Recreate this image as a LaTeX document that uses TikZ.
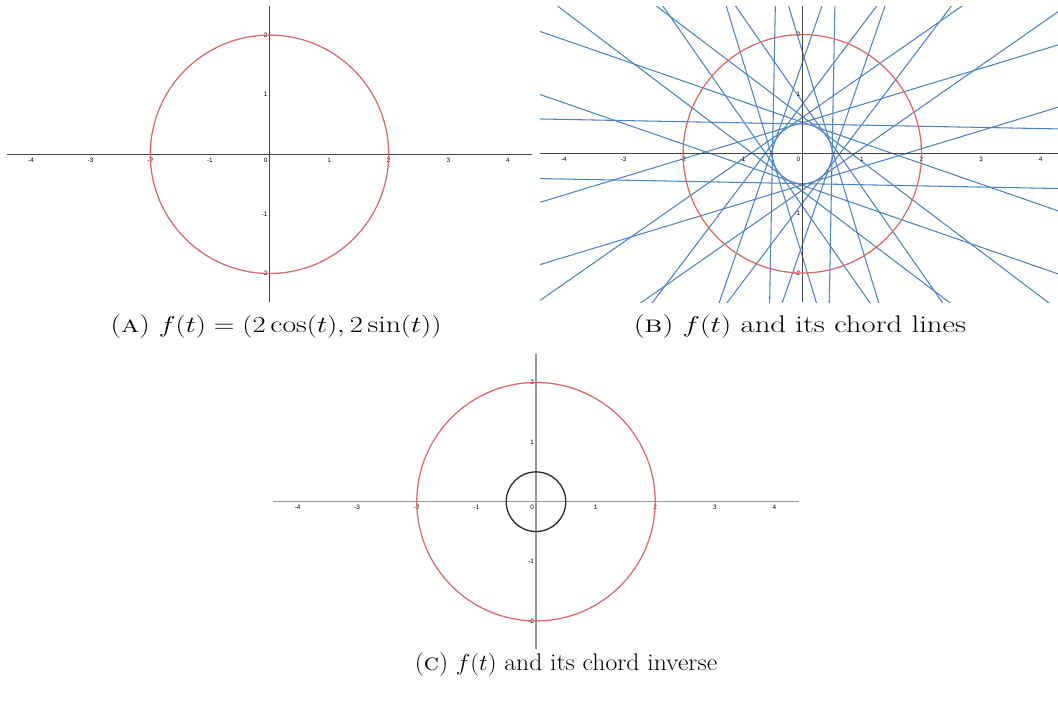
\documentclass[tikz,border=0pt]{standalone}
\usepackage{fontspec}
\newfontfamily\ticksfont{Liberation Sans}
\definecolor{axdark}{RGB}{70,70,70}
\definecolor{axlight}{RGB}{150,150,150}
\definecolor{curvered}{RGB}{222,104,104}
\definecolor{chordblue}{RGB}{78,132,198}
\definecolor{innerblack}{RGB}{45,45,45}
\tikzset{
  axisdark/.style={draw=axdark, line width=0.85pt},
  axislight/.style={draw=axlight, line width=0.95pt},
  redcurve/.style={draw=curvered, line width=0.95pt},
  chordline/.style={draw=chordblue, line width=0.8pt},
  innercurve/.style={draw=innerblack, line width=1pt},
  ticklab/.style={font=\ticksfont\fontsize{4.8}{5.5}\selectfont, inner sep=0pt, text=black},
  caption/.style={font=\fontsize{18}{20}\selectfont, anchor=base, inner sep=0pt},
}
\begin{document}
\begin{tikzpicture}[x=0.75pt,y=-0.75pt]
\useasboundingbox (0,0) rectangle (1058,703);
\fill[white] (0,0) rectangle (1058,703);

% ---------- Panel A ----------
\begin{scope}[shift={(269.5,154.3)}, x=44.7pt, y=44.7pt]
  \draw[axisdark] (-4.41,0) -- (4.41,0);
  \draw[axisdark] (0,-2.48) -- (0,2.48);
  \foreach \i in {-4,-3,-2,-1,1,2,3,4}
    \node[ticklab] (ax\i) at (\i,-0.1) {\i};
  \node[ticklab] (axzero) at (-0.065,-0.1) {0};
  \foreach \j in {-2,-1,1,2}
    \node[ticklab, anchor=east] (ay\j) at (-0.03,\j) {\j};
  \draw[redcurve] (0,0) circle (2);
\end{scope}

% ---------- Panel B ----------
\begin{scope}[shift={(802.3,153.8)}, x=44.7pt, y=44.7pt]
  \begin{scope}
    \clip (-4.40,-2.49) rectangle (4.30,2.475);
    \foreach \k in {0,...,19} {
      \pgfmathsetmacro\th{18*\k-1.1}
      \draw[chordline]
        ({0.5*cos(\th)-7*sin(\th)},{0.5*sin(\th)+7*cos(\th)}) --
        ({0.5*cos(\th)+7*sin(\th)},{0.5*sin(\th)-7*cos(\th)});
    }
  \end{scope}
  \draw[axisdark] (-4.40,0) -- (4.30,0);
  \draw[axisdark] (0,-2.49) -- (0,2.475);
  \foreach \i in {-4,-3,-2,-1,1,2,3,4}
    \node[ticklab] (bx\i) at (\i,-0.1) {\i};
  \node[ticklab] (bxzero) at (-0.065,-0.1) {0};
  \foreach \j in {-2,-1,1,2}
    \node[ticklab, anchor=east] (by\j) at (-0.03,\j) {\j};
  \draw[redcurve] (0,0) circle (2);
\end{scope}

% ---------- Panel C ----------
\begin{scope}[shift={(536,501.7)}, x=44.7pt, y=44.7pt]
  \draw[axislight] (-4.41,0) -- (4.41,0);
  \draw[axislight] (0,-2.47) -- (0,2.47);
  \foreach \i in {-4,-3,-2,-1,1,2,3,4}
    \node[ticklab] (cx\i) at (\i,-0.1) {\i};
  \node[ticklab] (cxzero) at (-0.065,-0.1) {0};
  \foreach \j in {-2,-1,1,2}
    \node[ticklab, anchor=east] (cy\j) at (-0.03,\j) {\j};
  \draw[redcurve] (0,0) circle (2);
  \draw[innercurve] (0,0) circle (0.5);
\end{scope}

% ---------- Captions ----------
\node[caption] (capA) at (276,332) {\scalebox{1.24}[1]{(\textsc{a}) $f(t) = (2\cos(t), 2\sin(t))$}};
\node[caption] (capB) at (800,332) {\scalebox{1.28}[1]{(\textsc{b}) $f(t)$ and its chord lines}};
\node[caption] (capC) at (566,670) {\scalebox{1.07}[1]{(\textsc{c}) $f(t)$ and its chord inverse}};
\end{tikzpicture}
\end{document}
